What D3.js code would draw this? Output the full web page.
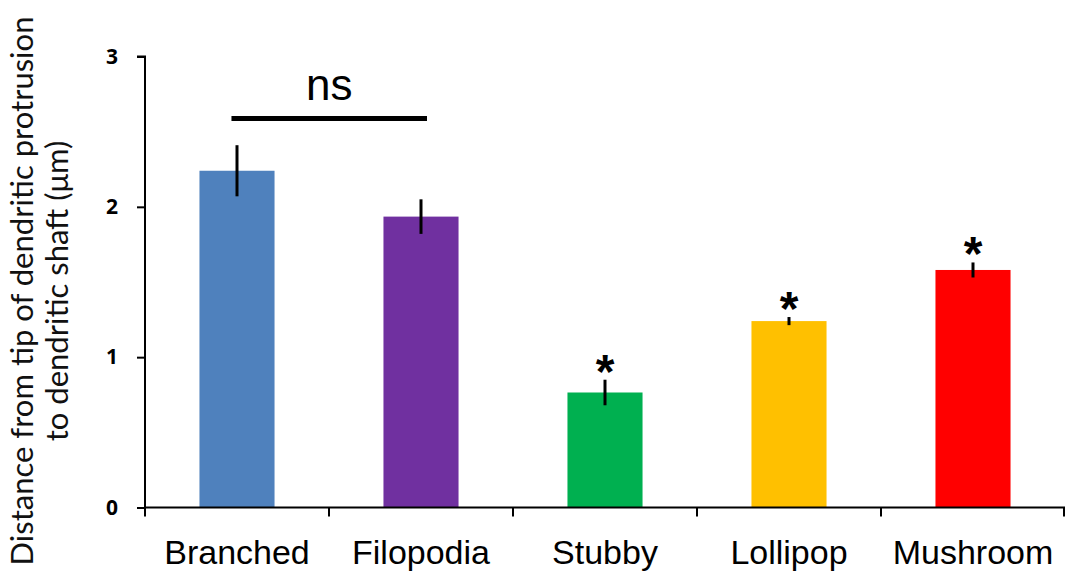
<!DOCTYPE html>
<html><head><meta charset="utf-8">
<script src="https://cdn.jsdelivr.net/npm/d3@7"></script>
<style>body{margin:0;background:#fff}svg{display:block}</style>
</head><body>
<svg id="c" width="1065" height="571"></svg>
<script>
const categories = ["Branched","Filopodia","Stubby","Lollipop","Mushroom"];
const values = [2.24, 1.935, 0.765, 1.24, 1.58];
const errors = [0.17, 0.115, 0.085, 0.027, 0.05];
const colors = ["#4F81BD","#7030A0","#00B050","#FFC000","#FF0000"];
const significant = [false,false,true,true,true];
const yTicks = [0,1,2,3];
const nsGroup = ["Branched","Filopodia"];
const yTitle = ["Distance from tip of dendritic protrusion","to dendritic shaft (\u03BCm)"];

const svg = d3.select("#c");
const y = d3.scaleLinear().domain([0,3]).range([507.5,56.5]);
const xCell = d3.scaleBand().domain(categories).range([145,1065]).padding(0);
const x = d3.scaleBand().domain(categories).range([145,1065]).paddingInner(0.592).paddingOuter(0.296);

svg.selectAll("rect.bar").data(categories).join("rect")
  .attr("x", d=>x(d)).attr("width", x.bandwidth())
  .attr("y", (d,i)=>y(values[i])).attr("height",(d,i)=>y(0)-y(values[i]))
  .attr("fill",(d,i)=>colors[i]);

svg.selectAll("line.err").data(categories).join("line")
  .attr("x1", d=>x(d)+x.bandwidth()/2).attr("x2", d=>x(d)+x.bandwidth()/2)
  .attr("y1",(d,i)=>y(values[i]+errors[i])).attr("y2",(d,i)=>y(values[i]-errors[i]))
  .attr("stroke","#000").attr("stroke-width",3);

svg.selectAll("text.star").data(categories.filter((d,i)=>significant[i])).join("text")
  .attr("x", d=>x(d)+x.bandwidth()/2)
  .attr("y", d=>{const i=categories.indexOf(d); return y(values[i]+errors[i]) - 19 + 27;})
  .attr("text-anchor","middle").attr("font-family","Liberation Sans, Arial, sans-serif")
  .attr("font-size",48).attr("font-weight","bold").text("*");

const yAxis = d3.axisLeft(y).tickValues(yTicks).tickFormat(d3.format("d")).tickSize(8).tickPadding(19);
const gy = svg.append("g").attr("transform","translate(145,0)").call(yAxis);
gy.select(".domain").attr("stroke-width",2).attr("d","M-8,56.5H0V507.5");
gy.selectAll(".tick line").attr("stroke-width",2);
gy.selectAll(".tick text").attr("fill","#000")
  .attr("style","font-size:21px;font-weight:700;font-family:'Open Sans','Liberation Sans',sans-serif");

const xAxis = d3.axisBottom(x).tickSize(0).tickPadding(32);
const gx = svg.append("g").attr("transform","translate(0,507.5)").call(xAxis);
gx.attr("font-size",34).attr("font-family","Liberation Sans, Arial, sans-serif");
gx.select(".domain").attr("stroke-width",2).attr("d","M145,0H1065");
gx.selectAll(".tick text").attr("fill","#000");
const bounds = categories.map(d=>xCell(d)).concat([xCell(categories[categories.length-1])+xCell.step()]);
gx.selectAll("line.bt").data(bounds).join("line")
  .attr("x1",d=>Math.min(d,1064)).attr("x2",d=>Math.min(d,1064)).attr("y1",0).attr("y2",9)
  .attr("stroke","#000").attr("stroke-width",2);

const x1 = x(nsGroup[0]) + 32, x2 = x(nsGroup[1]) + x.bandwidth()/2 + 6;
svg.append("line").attr("x1",x1).attr("x2",x2).attr("y1",118.5).attr("y2",118.5)
  .attr("stroke","#000").attr("stroke-width",5);
svg.append("text").attr("x",(x1+x2)/2).attr("y",100).attr("text-anchor","middle")
  .attr("font-family","Liberation Sans, Arial, sans-serif").attr("font-size",44).text("ns");

const t = svg.append("text").attr("transform","translate(0,291) rotate(-90)")
  .attr("text-anchor","middle").attr("font-family","Lato, 'Open Sans', sans-serif").attr("font-size",31).attr("fill","#111");
t.append("tspan").attr("x",0).attr("y",33).text(yTitle[0]);
t.append("tspan").attr("x",0).attr("y",68).text(yTitle[1]);
</script>
</body></html>
